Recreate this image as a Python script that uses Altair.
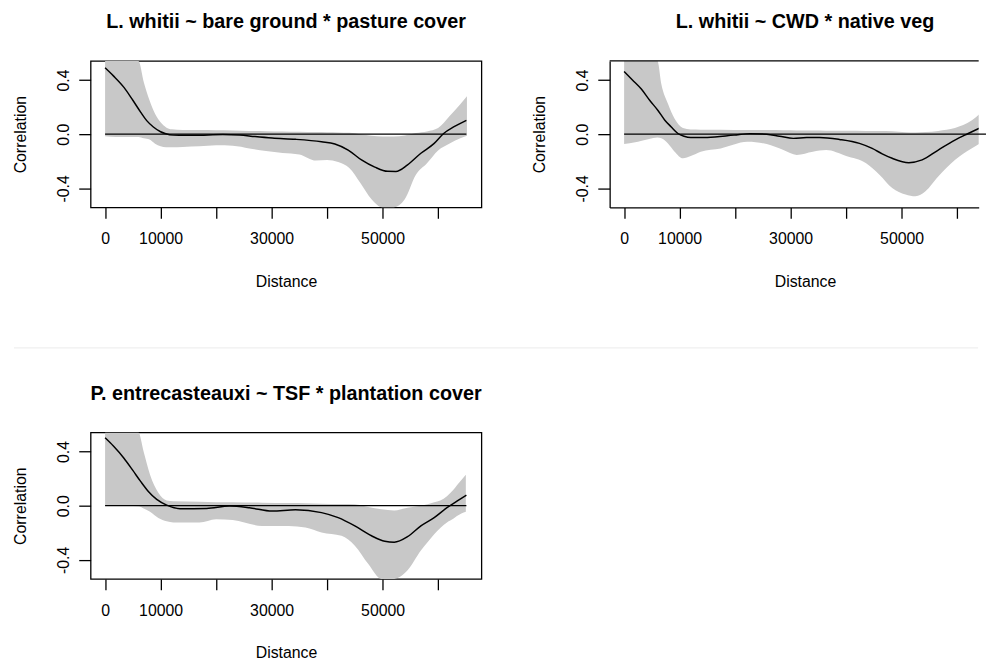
import altair as alt
import pandas as pd

# ---------------- data ----------------
TITLES = [
    "L. whitii ~ bare ground * pasture cover",
    "L. whitii ~ CWD * native veg",
    "P. entrecasteauxi ~ TSF * plantation cover",
]

# Panel 1: confidence band
p1_band_d = [0, 2000, 4000, 6000, 7000, 8000, 9000, 10000, 11000, 12000, 14000, 17000,
             20000, 23000, 26000, 29000, 32000, 35000, 38000, 40000, 42000, 44000, 46000,
             48000, 50000, 52000, 54000, 56000, 58000, 60000, 62000, 64000, 65200]
p1_band_hi = [0.80, 0.78, 0.75, 0.56, 0.38, 0.25, 0.15, 0.087, 0.05, 0.036, 0.031, 0.030,
              0.029, 0.027, 0.024, 0.022, 0.020, 0.018, 0.016, 0.015, 0.013, 0.010, 0.000,
              -0.012, -0.018, -0.018, -0.010, 0.008, 0.020, 0.045, 0.13, 0.22, 0.28]
p1_band_lo = [-0.015, -0.02, -0.02, -0.02, -0.03, -0.04, -0.07, -0.09, -0.097, -0.097, -0.094,
              -0.09, -0.082, -0.085, -0.105, -0.125, -0.138, -0.15, -0.195, -0.19, -0.205,
              -0.25, -0.36, -0.48, -0.60, -0.64, -0.48, -0.30, -0.215, -0.12, -0.07, -0.03,
              -0.012]
# Panel 1: correlogram curve
p1_line_d = [0, 1500, 3400, 5000, 6400, 7500, 8700, 10000, 10800, 12300, 16000, 21200, 24200,
             27000, 30100, 34300, 39000, 41400, 43800, 46200, 48600, 50900, 52400, 54500,
             56900, 59300, 61000, 62800, 65100]
p1_line_r = [0.49, 0.43, 0.345, 0.25, 0.163, 0.10, 0.053, 0.018, 0.005, -0.007, -0.008, -0.003,
             -0.006, -0.018, -0.029, -0.038, -0.056, -0.072, -0.117, -0.19, -0.243, -0.274,
             -0.275, -0.226, -0.141, -0.068, 0.005, 0.053, 0.102]

# Panel 2
p2_band_d = [0, 2000, 3000, 4500, 6000, 6700, 7900, 9100, 10600, 12000, 13800, 17400, 22200,
             25700, 28700, 31100, 34000, 36400, 40000, 43600, 46000, 48300, 50700, 52500,
             54300, 56600, 59600, 62600, 65000]
p2_band_hi = [0.80, 0.78, 0.76, 0.70, 0.56, 0.37, 0.224, 0.114, 0.045, 0.034, 0.033, 0.032,
              0.030, 0.030, 0.028, 0.027, 0.027, 0.026, 0.025, 0.024, 0.024, 0.022, 0.015,
              0.012, 0.016, 0.024, 0.045, 0.10, 0.185]
p2_band_lo = [-0.073, -0.06, -0.05, -0.035, -0.025, -0.03, -0.068, -0.129, -0.178, -0.161,
              -0.129, -0.105, -0.056, -0.073, -0.117, -0.153, -0.129, -0.117, -0.161, -0.214,
              -0.299, -0.397, -0.445, -0.458, -0.421, -0.312, -0.19, -0.105, -0.049]
p2_line_d = [0, 1500, 3100, 4600, 6100, 7300, 8500, 9700, 10800, 12000, 15000, 19800, 22700,
             25700, 28000, 30500, 32900, 35200, 38800, 42400, 44700, 46500, 48300, 51300,
             53700, 56600, 59600, 62000, 65200]
p2_line_r = [0.462, 0.40, 0.333, 0.25, 0.175, 0.105, 0.053, 0.005, -0.015, -0.024, -0.024,
             -0.007, 0.004, 0.0, -0.015, -0.031, -0.024, -0.024, -0.039, -0.068, -0.105,
             -0.145, -0.178, -0.21, -0.19, -0.117, -0.044, 0.005, 0.068]

# Panel 3
p3_band_d = [0, 2000, 4000, 6000, 6950, 8100, 9600, 11100, 12300, 17000, 20000, 23000, 28300,
             33100, 36100, 39000, 42600, 45000, 47400, 49800, 52100, 54500, 56900, 58100,
             59300, 60400, 61600, 62800, 63400, 65000]
p3_band_hi = [0.80, 0.78, 0.75, 0.60, 0.398, 0.228, 0.095, 0.039, 0.033, 0.029, 0.026, 0.025,
              0.022, 0.020, 0.018, 0.015, 0.012, 0.010, -0.010, -0.027, -0.035, -0.015, 0.0,
              0.010, 0.025, 0.039, 0.07, 0.119, 0.15, 0.228]
p3_band_lo = [-0.003, -0.003, -0.003, -0.005, -0.02, -0.044, -0.09, -0.115, -0.124, -0.124,
              -0.10, -0.105, -0.149, -0.149, -0.161, -0.197, -0.222, -0.295, -0.429, -0.58,
              -0.65, -0.477, -0.331, -0.27, -0.21, -0.165, -0.124, -0.095, -0.076, -0.044]
p3_line_d = [0, 1500, 3400, 5000, 6400, 7800, 9300, 11100, 13500, 18300, 22400, 26000, 30100,
             34300, 39000, 42000, 45000, 48000, 50400, 52100, 54500, 56900, 59300, 61600,
             63400, 65100]
p3_line_r = [0.501, 0.44, 0.35, 0.26, 0.179, 0.105, 0.046, 0.004, -0.022, -0.02, -0.003,
             -0.015, -0.04, -0.03, -0.051, -0.088, -0.149, -0.222, -0.263, -0.27, -0.229,
             -0.149, -0.088, -0.015, 0.033, 0.077]

ZERO_END = [65100, 65200, 65100]

X_TICKS = [0, 10000, 20000, 30000, 40000, 50000, 60000]
Y_TICKS = [-0.4, -0.2, 0.0, 0.2, 0.4]

Y_DOMAIN = [-0.54, 0.54]
X_MIN = -2608
UNITS_PER_PX = 178.27

FONT = "Liberation Sans"
GREY = "#c8c8c8"
W, H = 395, 148
W2 = 373  # right panel is cut by the picture edge


def panel(title, bd, blo, bhi, ld, lr, zend, width=W, boxed=True, title_dx=0):
    band = pd.DataFrame({"d": bd, "lo": blo, "hi": bhi})
    curve = pd.DataFrame({"d": ld, "r": lr})
    zero = pd.DataFrame({"d": [0], "d2": [zend], "r": [0.0]})

    xs = alt.Scale(domain=[X_MIN, X_MIN + width * UNITS_PER_PX], nice=False, zero=False)
    ys = alt.Scale(domain=Y_DOMAIN, nice=False, zero=False, clamp=True)

    xaxis = alt.Axis(
        values=X_TICKS,
        labelExpr="(datum.value == 20000 || datum.value == 40000 || datum.value == 60000) ? '' : format(datum.value, 'd')",
        title="Distance",
        titleX=W / 2, titleY=79.5, titleBaseline="alphabetic", titleAlign="center",
        domain=not boxed, domainColor="black", domainWidth=1.3,
    )
    yaxis = alt.Axis(
        values=Y_TICKS,
        labelExpr="(abs(datum.value) > 0.1 && abs(datum.value) < 0.3) ? '' : (datum.value < 0 ? '-' + format(-datum.value, '.1f') : format(datum.value, '.1f'))",
        title="Correlation",
        titleX=-65.5, titleY=H / 2, titleBaseline="alphabetic", titleAlign="center", titleAngle=270,
        labelAngle=270, labelAlign="center", labelBaseline="alphabetic", labelPadding=10,
        tickSize=12,
        domain=not boxed, domainColor="black", domainWidth=1.3,
    )

    area = alt.Chart(band).mark_area(color=GREY, clip=True, interpolate="monotone", opacity=1).encode(
        x=alt.X("d:Q", scale=xs, axis=xaxis),
        y=alt.Y("lo:Q", scale=ys, axis=yaxis),
        y2="hi:Q",
    )
    rule = alt.Chart(zero).mark_rule(color="black", strokeWidth=1.2).encode(
        x=alt.X("d:Q", scale=xs), x2="d2:Q", y=alt.Y("r:Q", scale=ys)
    )
    line = alt.Chart(curve).mark_line(color="black", strokeWidth=1.5, clip=True,
                                      interpolate="monotone").encode(
        x=alt.X("d:Q", scale=xs), y=alt.Y("r:Q", scale=ys)
    )
    layers = [area, rule, line]
    if not boxed:
        top = alt.Chart(zero).mark_rule(color="black", strokeWidth=1.3).encode(
            x=alt.value(0), x2=alt.value(width), y=alt.value(0)
        )
        layers.append(top)
    view = alt.ViewBackground(stroke="black", strokeWidth=1.3) if boxed else alt.ViewBackground(stroke=None)
    return alt.layer(*layers).properties(
        width=width, height=H, view=view,
        title=alt.TitleParams(text=title, anchor="middle", frame="group", font=FONT,
                              fontSize=20, fontWeight="bold", baseline="alphabetic",
                              offset=13, color="black", dx=title_dx),
    )


c1 = panel(TITLES[0], p1_band_d, p1_band_lo, p1_band_hi, p1_line_d, p1_line_r, ZERO_END[0])
c2 = panel(TITLES[1], p2_band_d, p2_band_lo, p2_band_hi, p2_line_d, p2_line_r, ZERO_END[1],
           width=W2, boxed=False, title_dx=11)
c3 = panel(TITLES[2], p3_band_d, p3_band_lo, p3_band_hi, p3_line_d, p3_line_r, ZERO_END[2])

# faint separator line between the two rows
sep = alt.Chart(pd.DataFrame({"r": [0]})).mark_rule(color="#efefef", strokeWidth=1.5).encode(
    x=alt.value(-77.5), x2=alt.value(897), y=alt.value(0)
).properties(width=W, height=1, view=alt.ViewBackground(stroke=None))

row1 = alt.hconcat(c1, c2, spacing=49.6)
lower = alt.vconcat(sep, c3, spacing=34.5)
chart = alt.vconcat(row1, lower, spacing=57).properties(
    padding={"left": 3.5, "top": 0, "right": 0, "bottom": 0}
).configure_view(stroke=None).configure_axis(
    grid=False, ticks=True, tickColor="black", tickWidth=1.3, tickSize=11,
    labelFont=FONT, labelFontSize=16, labelColor="black", labelPadding=13,
    labelOverlap=False, labelFlush=False, labelBound=False,
    titleFont=FONT, titleFontSize=16, titleFontWeight="normal", titleColor="black",
)

chart.save("out.html", embed_options={"renderer": "svg", "actions": False})
